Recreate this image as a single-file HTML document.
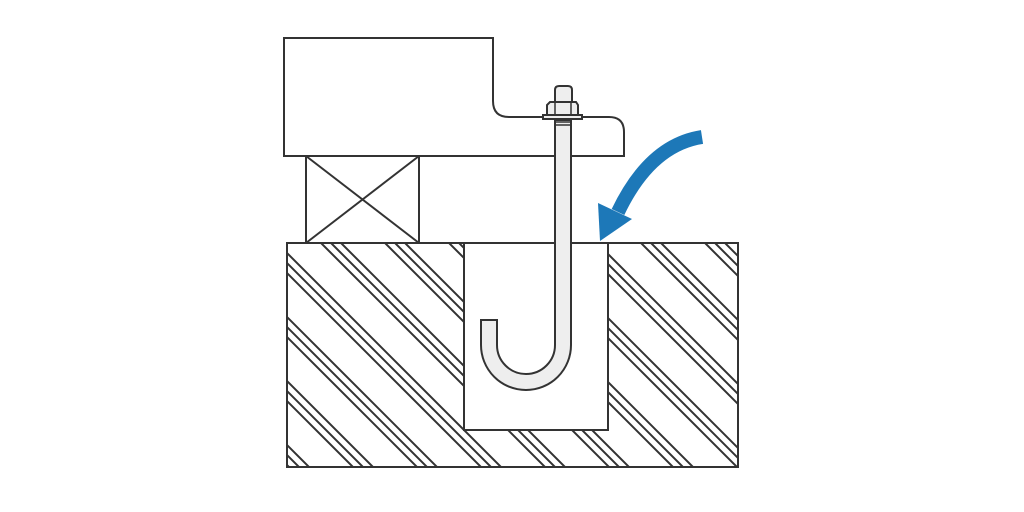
<!DOCTYPE html>
<html><head><meta charset="utf-8"><style>html,body{margin:0;padding:0;background:#fff;width:1024px;height:512px;overflow:hidden;}svg{display:block}</style></head>
<body>
<svg width="1024" height="512" viewBox="0 0 1024 512" xmlns="http://www.w3.org/2000/svg">
<defs>
<clipPath id="cb"><rect x="287" y="243" width="451" height="224"/></clipPath>
</defs>
<g stroke="#333" stroke-width="2" fill="none">
<g clip-path="url(#cb)">
<line x1="0" y1="178" x2="1024" y2="1202"/><line x1="0" y1="168" x2="1024" y2="1192"/><line x1="0" y1="158" x2="1024" y2="1182"/>
<line x1="0" y1="114" x2="1024" y2="1138"/><line x1="0" y1="104" x2="1024" y2="1128"/><line x1="0" y1="94" x2="1024" y2="1118"/>
<line x1="0" y1="50" x2="1024" y2="1074"/><line x1="0" y1="40" x2="1024" y2="1064"/><line x1="0" y1="30" x2="1024" y2="1054"/>
<line x1="0" y1="-14" x2="1024" y2="1010"/><line x1="0" y1="-24" x2="1024" y2="1000"/><line x1="0" y1="-34" x2="1024" y2="990"/>
<line x1="0" y1="-78" x2="1024" y2="946"/><line x1="0" y1="-88" x2="1024" y2="936"/><line x1="0" y1="-98" x2="1024" y2="926"/>
<line x1="0" y1="-142" x2="1024" y2="882"/><line x1="0" y1="-152" x2="1024" y2="872"/><line x1="0" y1="-162" x2="1024" y2="862"/>
<line x1="0" y1="-206" x2="1024" y2="818"/><line x1="0" y1="-216" x2="1024" y2="808"/><line x1="0" y1="-226" x2="1024" y2="798"/>
<line x1="0" y1="-270" x2="1024" y2="754"/><line x1="0" y1="-280" x2="1024" y2="744"/><line x1="0" y1="-290" x2="1024" y2="734"/>
<line x1="0" y1="-334" x2="1024" y2="690"/><line x1="0" y1="-344" x2="1024" y2="680"/><line x1="0" y1="-354" x2="1024" y2="670"/>
<line x1="0" y1="-398" x2="1024" y2="626"/><line x1="0" y1="-408" x2="1024" y2="616"/><line x1="0" y1="-418" x2="1024" y2="606"/>
<line x1="0" y1="-462" x2="1024" y2="562"/><line x1="0" y1="-472" x2="1024" y2="552"/><line x1="0" y1="-482" x2="1024" y2="542"/>
</g>
<rect x="287" y="243" width="451" height="224"/>
<rect x="464" y="243" width="144" height="187" fill="#fff"/>
<path d="M284 38 H493 V101 Q493 117 509 117 H609 Q624 117 624 132 V156 H284 Z" fill="#fff"/>
<rect x="306" y="156" width="113" height="87" fill="#fff"/>
<line x1="306" y1="156" x2="419" y2="243"/><line x1="419" y1="156" x2="306" y2="243"/>
<path d="M555 120 V345 A28 28 0 0 1 497 345 V320 H481 V345 A45 45 0 0 0 571 345 V120 Z" fill="#eee"/>
<path d="M555 103 V90 Q555 86 559 86 H568 Q572 86 572 90 V103 Z" fill="#eee"/>
<path d="M550 102 H576 L578 105 V115 H547 V105 Z" fill="#eee"/>
<line x1="555" y1="103" x2="555" y2="115" stroke-width="1.5"/><line x1="571" y1="103" x2="571" y2="115" stroke-width="1.5"/>
<rect x="543" y="115" width="39" height="4" fill="#eee"/>
<line x1="555" y1="122" x2="571" y2="122" stroke-width="1.5"/><line x1="555" y1="125" x2="571" y2="125" stroke-width="1.5"/>
</g>
<path d="M702 137 Q650 145 618 212" stroke="#1d78b8" stroke-width="14" fill="none"/>
<polygon points="598,203 632,219 600,241" fill="#1d78b8"/>
</svg>
</body></html>
